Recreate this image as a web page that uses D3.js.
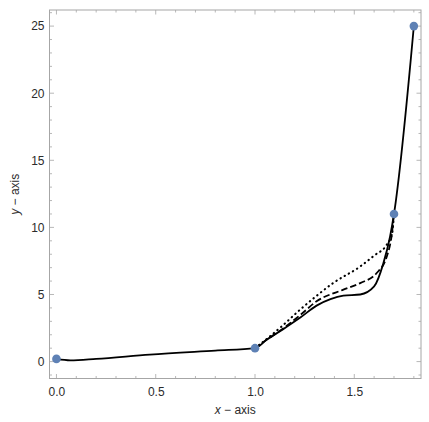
<!DOCTYPE html>
<html>
<head>
<meta charset="utf-8">
<script src="https://cdn.jsdelivr.net/npm/d3@7"></script>
<style>
  body { margin: 0; background: #fff; }
  text { font-family: "Liberation Sans", Arial, sans-serif; }
</style>
</head>
<body>
<div id="chart"></div>
<script>
// data points (blue dots)
var pointX = [0, 1, 1.7, 1.8];
var pointY = [0.2, 1, 11, 25];

// curves
var solidX = [0, 0.07, 0.2, 0.47, 0.8, 1, 1.06, 1.14, 1.23, 1.31, 1.38, 1.445, 1.53, 1.6, 1.646, 1.68, 1.7, 1.8];
var solidY = [0.2, 0.09, 0.2, 0.52, 0.82, 1, 1.64, 2.4, 3.3, 4.17, 4.65, 4.91, 5.0, 5.6, 7.3, 9.3, 11, 25];

var dashedX = [1, 1.06, 1.14, 1.23, 1.31, 1.445, 1.53, 1.613, 1.663, 1.689, 1.7];
var dashedY = [1, 1.64, 2.45, 3.5, 4.49, 5.36, 5.85, 6.6, 7.8, 9.5, 11];

var dottedX = [1, 1.06, 1.14, 1.227, 1.31, 1.394, 1.53, 1.6, 1.663, 1.69, 1.7];
var dottedY = [1, 1.7, 2.7, 3.87, 4.9, 5.86, 7.09, 7.9, 8.7, 9.5, 11];

var xMajor = [0, 0.5, 1, 1.5];
var yMajor = [0, 5, 10, 15, 20, 25];

var W = 429, H = 422,
    margin = {top: 10, right: 8, bottom: 43.5, left: 49.5},
    width = W - margin.left - margin.right,
    height = H - margin.top - margin.bottom;

var svg = d3.select("#chart").append("svg")
    .attr("width", W)
    .attr("height", H);

var g = svg.append("g")
    .attr("transform", "translate(" + margin.left + "," + margin.top + ")");

var x = d3.scaleLinear().domain([-0.035, 1.836]).range([0, width]);
var y = d3.scaleLinear().domain([-1.26, 26.2]).range([height, 0]);

var frameColor = "#a6a6a6";

// minor + major ticks on all four sides, pointing inward
var xMinor = d3.range(0, 19).map(function(i) { return i / 10; });
var yMinor = d3.range(-1, 27);

function isMajorX(v) { return Math.abs(v * 2 - Math.round(v * 2)) < 1e-6; }
function isMajorY(v) { return v % 5 === 0; }

var ticks = g.append("g").attr("stroke", frameColor).attr("stroke-width", 0.8);

xMinor.forEach(function(v) {
  var len = isMajorX(v) ? 4.5 : 2.5;
  ticks.append("line").attr("x1", x(v)).attr("x2", x(v)).attr("y1", height).attr("y2", height - len);
  ticks.append("line").attr("x1", x(v)).attr("x2", x(v)).attr("y1", 0).attr("y2", len);
});
yMinor.forEach(function(v) {
  var len = isMajorY(v) ? 4.5 : 2.5;
  ticks.append("line").attr("y1", y(v)).attr("y2", y(v)).attr("x1", 0).attr("x2", len);
  ticks.append("line").attr("y1", y(v)).attr("y2", y(v)).attr("x1", width).attr("x2", width - len);
});

g.append("rect")
    .attr("width", width)
    .attr("height", height)
    .attr("fill", "none")
    .attr("stroke", frameColor)
    .attr("stroke-width", 1);

// tick labels
var xAxis = d3.axisBottom(x).tickValues(xMajor).tickSize(0).tickPadding(9)
    .tickFormat(d3.format(".1f"));
var xg = g.append("g").attr("transform", "translate(0," + height + ")").call(xAxis);
var yAxis = d3.axisLeft(y).tickValues(yMajor).tickSize(0).tickPadding(5)
    .tickFormat(d3.format("d"));
var yg = g.append("g").call(yAxis);
[xg, yg].forEach(function(a) {
  a.select(".domain").remove();
  a.selectAll("text").attr("fill", "#2b2b2b").style("font-size", "12px");
});

// curves
function pts(xs, ys) { return xs.map(function(v, i) { return [v, ys[i]]; }); }
var line = d3.line()
    .curve(d3.curveMonotoneX)
    .x(function(d) { return x(d[0]); })
    .y(function(d) { return y(d[1]); });

g.append("path").datum(pts(dottedX, dottedY))
    .attr("d", line).attr("fill", "none").attr("stroke", "#000")
    .attr("stroke-width", 2.1).attr("stroke-linecap", "round")
    .attr("stroke-dasharray", "0.4,4.4");
g.append("path").datum(pts(dashedX, dashedY))
    .attr("d", line).attr("fill", "none").attr("stroke", "#000")
    .attr("stroke-width", 1.8).attr("stroke-dasharray", "6.5,3");
g.append("path").datum(pts(solidX, solidY))
    .attr("d", line).attr("fill", "none").attr("stroke", "#000")
    .attr("stroke-width", 1.8);

// points
g.selectAll("circle").data(pts(pointX, pointY)).enter().append("circle")
    .attr("cx", function(d) { return x(d[0]); })
    .attr("cy", function(d) { return y(d[1]); })
    .attr("r", 4.3)
    .attr("fill", "#5e81b5");

// axis labels
var xl = svg.append("text")
    .attr("x", margin.left + width / 2)
    .attr("y", 414)
    .attr("text-anchor", "middle")
    .attr("fill", "#2b2b2b")
    .style("font-size", "12px");
xl.append("tspan").attr("font-style", "italic").text("x");
xl.append("tspan").text(" \u2212 axis");

var yl = svg.append("text")
    .attr("transform", "translate(19," + (margin.top + height / 2) + ") rotate(-90)")
    .attr("text-anchor", "middle")
    .attr("fill", "#2b2b2b")
    .style("font-size", "12px");
yl.append("tspan").attr("font-style", "italic").text("y");
yl.append("tspan").text(" \u2212 axis");
</script>
</body>
</html>
